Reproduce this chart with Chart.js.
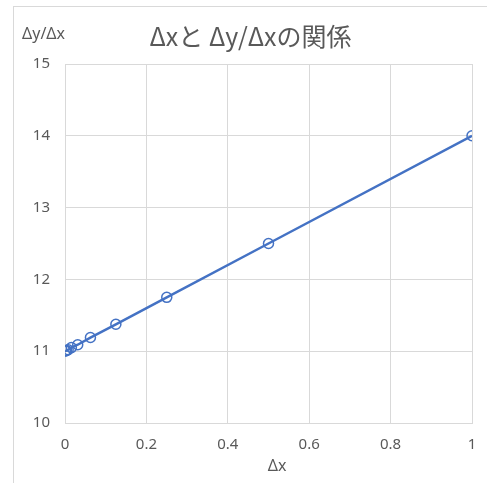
<!DOCTYPE html>
<html lang="ja">
  <head>
    <meta charset="UTF-8" />
    <title>Δxと Δy/Δxの関係</title>
    <script src="https://cdn.jsdelivr.net/npm/chart.js@4.4.1/dist/chart.umd.min.js"></script>
    <style>
      body { margin: 0; background: #fff; }
      #frame {
        position: absolute; left: 13px; top: 6px;
        width: 474px; height: 477px;
        border-left: 1px solid #d9d9d9; border-top: 1px solid #d9d9d9;
        box-sizing: border-box;
      }
    </style>
  </head>
  <body>
    <div id="frame">
      <canvas id="myChart" width="473" height="476"></canvas>
    </div>

    <script>
      // Δx と Δy/Δx の値
      const dx = [1, 0.5, 0.25, 0.125, 0.0625, 0.03125, 0.015625, 0.0078, 0.0039, 0.002, 0.001];
      const dydx = [14, 12.5, 11.75, 11.375, 11.19, 11.09, 11.05, 11.02, 11.01, 11.006, 11.003];
      const titleText = "Δxと Δy/Δxの関係";
      const xTitle = "Δx";
      const yTitle = "Δy/Δx";

      const gray = "#595959";
      const grid = "#d9d9d9";

      // 軸タイトルを Excel 風の位置に描く
      const axisTitles = {
        id: "axisTitles",
        afterDraw(chart) {
          const c = chart.ctx, a = chart.chartArea;
          c.save();
          c.fillStyle = gray;
          c.font = "16px 'Noto Sans'";
          c.textBaseline = "middle";
          c.textAlign = "left";
          c.fillText(yTitle, 8, 27);
          c.textAlign = "center";
          c.fillText(xTitle, 263, a.bottom + 43);
          c.restore();
        }
      };

      var ctx = document.getElementById("myChart").getContext("2d");
      var chart = new Chart(ctx, {
        type: "scatter",
        data: {
          datasets: [{
            data: dx.map((x, i) => ({ x: x, y: dydx[i] })),
            showLine: true,
            borderColor: "#4472c4",
            borderWidth: 2.5,
            pointRadius: 5,
            pointBorderWidth: 1.5,
            pointBackgroundColor: "rgba(0,0,0,0)",
            pointBorderColor: "#4472c4"
          }]
        },
        plugins: [axisTitles],
        options: {
          responsive: false,
          animation: false,
          layout: { padding: 0 },
          plugins: {
            legend: { display: false },
            tooltip: { enabled: false },
            title: {
              display: true,
              text: titleText,
              color: gray,
              font: { family: "'Noto Sans CJK JP'", size: 25, weight: "normal", lineHeight: 1.2 },
              padding: { top: 14, bottom: 13 }
            }
          },
          scales: {
            x: {
              type: "linear",
              min: 0, max: 1,
              afterFit: s => { s.height = 60; s.paddingRight = 15; s.paddingLeft = 0; },
              ticks: {
                stepSize: 0.2, color: gray, font: { family: "'Noto Sans'", size: 15 }, padding: 13,
                callback: v => String(+v.toFixed(1))
              },
              grid: { color: grid, drawTicks: false },
              border: { color: grid }
            },
            y: {
              min: 10, max: 15,
              afterFit: s => { s.width = 51; s.paddingTop = 0; s.paddingBottom = 0; },
              ticks: { stepSize: 1, color: gray, font: { family: "'Noto Sans'", size: 15 }, padding: 15 },
              grid: { color: grid, drawTicks: false },
              border: { color: grid }
            }
          }
        }
      });
    </script>
  </body>
</html>
